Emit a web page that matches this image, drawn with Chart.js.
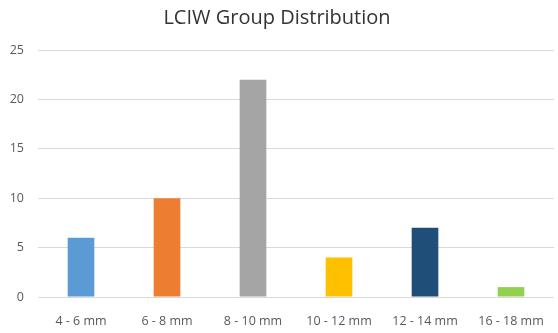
<!DOCTYPE html>
<html>
<head>
<meta charset="utf-8">
<script src="https://cdn.jsdelivr.net/npm/chart.js@4"></script>
<style>
  html, body { margin: 0; padding: 0; background: #ffffff; }
  #wrap { width: 558px; height: 333px; }
</style>
</head>
<body>
<div id="wrap"><canvas id="chart"></canvas></div>
<script>
const categories = ['4 - 6 mm', '6 - 8 mm', '8 - 10 mm', '10 - 12 mm', '12 - 14 mm', '16 - 18 mm'];
const counts = [6, 10, 22, 4, 7, 1];
const barColors = ['#5B9BD5', '#ED7D31', '#A5A5A5', '#FFC000', '#1F4E79', '#92D050'];
const yTicks = [0, 5, 10, 15, 20, 25];

const fontFamily = "'Open Sans', 'Liberation Sans', sans-serif";

new Chart(document.getElementById('chart'), {
  type: 'bar',
  data: {
    labels: categories,
    datasets: [{
      data: counts,
      backgroundColor: barColors,
      borderWidth: 0,
      barPercentage: 0.31,
      categoryPercentage: 1.0
    }]
  },
  options: {
    responsive: true,
    maintainAspectRatio: false,
    animation: false,
    layout: { padding: { left: 0, right: 4, top: 6, bottom: 0 } },
    plugins: {
      legend: { display: false },
      tooltip: { enabled: false },
      title: {
        display: true,
        text: 'LCIW Group Distribution',
        color: '#333333',
        font: { family: fontFamily, size: 20, weight: 'normal' },
        padding: { top: 0, bottom: 20 }
      }
    },
    scales: {
      x: {
        grid: { display: false, drawTicks: false },
        border: { display: false },
        ticks: {
          color: '#595959',
          font: { family: fontFamily, size: 12.5 },
          maxRotation: 0,
          padding: 17
        },
        afterFit: (axis) => { axis.height = 36; axis.paddingRight = 0; axis.paddingLeft = 0; }
      },
      y: {
        min: 0,
        max: 25,
        afterBuildTicks: (axis) => { axis.ticks = yTicks.map(v => ({ value: v })); },
        grid: { color: '#D9D9D9', lineWidth: 1, drawTicks: false },
        border: { display: false },
        ticks: {
          color: '#595959',
          font: { family: fontFamily, size: 12.5 },
          padding: 14
        },
        afterFit: (axis) => { axis.width = 38; }
      }
    }
  }
});
</script>
</body>
</html>
